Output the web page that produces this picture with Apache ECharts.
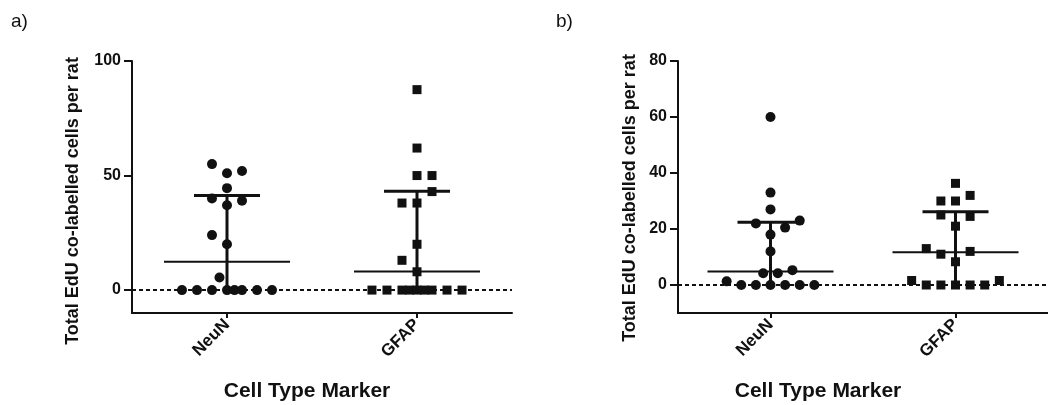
<!DOCTYPE html>
<html>
<head>
<meta charset="utf-8">
<script src="https://cdn.jsdelivr.net/npm/echarts@6/dist/echarts.min.js"></script>
<style>
html,body{margin:0;padding:0;background:#fff;}
#chart{width:1048px;height:405px;}
</style>
</head>
<body>
<div id="chart"></div>
<script>
// ---------- DATA ----------
const categories = ['NeuN', 'GFAP'];
const yTicksA = [0, 50, 100];
const yTicksB = [0, 20, 40, 60, 80];
const yTitle = 'Total EdU co-labelled cells per rat';
const xTitle = 'Cell Type Marker';

// panel a)
const aNeuN      = [55, 51, 52, 44.5, 40, 39, 37, 24, 20, 5.5, 0, 0, 0, 0, 0, 0, 0, 0];
const aNeuNSlot  = [-1, 0, 1, 0, -1, 1, 0, -1, 0, -0.5, -3, -2, -1, 0, 0.5, 1, 2, 3];
const aGFAP      = [87.5, 62, 50, 50, 43, 38, 38, 20, 13, 8, 0, 0, 0, 0, 0, 0, 0, 0, 0];
const aGFAPSlot  = [0, 0, 0, 1, 1, -1, 0, 0, -1, 0, -3, -2, -1, -0.5, 0, 0.5, 1, 2, 3];
const aCenter    = [12.4, 8.1];   // long horizontal line
const aUpper     = [41.3, 43.1];  // capped error bar top

// panel b)
const bNeuN      = [60, 33, 27, 22, 20.5, 23, 18, 12, 4.2, 4.2, 5.3, 1.3, 0, 0, 0, 0, 0, 0];
const bNeuNSlot  = [0, 0, 0, -1, 1, 2, 0, 0, -0.5, 0.5, 1.5, -3, -2, -1, 0, 1, 2, 3];
const bGFAP      = [36.3, 30, 30, 32, 25, 24.5, 21, 13, 11, 12, 8.3, 1.6, 1.6, 0, 0, 0, 0, 0];
const bGFAPSlot  = [0, -1, 0, 1, -1, 1, 0, -2, -1, 1, 0, -3, 3, -2, -1, 0, 1, 2];
const bCenter    = [4.8, 11.7];
const bUpper     = [22.4, 26.2];

// ---------- STYLE ----------
const INK = '#111';
const FONT = '"Liberation Sans", Arial, sans-serif';
const slotStep = 0.079;

function pts(vals, slots, cat) {
  return vals.map((v, i) => [cat + slots[i] * slotStep, v]);
}
function summary(center, upper) {
  return center.map((c, i) => [i, c, upper[i]]);
}

function renderSummary(params, api) {
  const x = api.value(0), c = api.value(1), u = api.value(2);
  const pc = api.coord([x, c]);
  const pu = api.coord([x, u]);
  const p0 = api.coord([x, 0]);
  return {
    type: 'group',
    children: [
      {type: 'line', shape: {x1: pc[0] - 63, y1: pc[1], x2: pc[0] + 63, y2: pc[1]}, style: {stroke: INK, lineWidth: 2}},
      {type: 'line', shape: {x1: pu[0] - 33, y1: pu[1], x2: pu[0] + 33, y2: pu[1]}, style: {stroke: INK, lineWidth: 3}},
      {type: 'line', shape: {x1: p0[0], y1: p0[1], x2: pu[0], y2: pu[1]}, style: {stroke: INK, lineWidth: 3}}
    ]
  };
}

function catAxis(gi) {
  return {
    type: 'category', gridIndex: gi, data: categories, boundaryGap: true, position: 'bottom',
    axisLine: {show: true, onZero: false, lineStyle: {color: INK, width: 2}},
    axisTick: {show: true, alignWithLabel: true, length: 5, lineStyle: {color: INK, width: 2}},
    axisLabel: {rotate: 45, margin: 9, color: INK, fontFamily: FONT, fontWeight: 'bold', fontSize: 17},
    splitLine: {show: false}
  };
}
function valXAxis(gi) {
  return {type: 'value', gridIndex: gi, min: -0.5, max: 1.5, show: false,
          axisLine: {onZero: false}, splitLine: {show: false}};
}
function yAxis(gi, max, ticks) {
  return {
    type: 'value', gridIndex: gi, min: -10, max: max, position: 'left',
    axisLine: {show: true, onZero: false, lineStyle: {color: INK, width: 2}},
    axisTick: {show: true, length: 8, lineStyle: {color: INK, width: 2}, customValues: ticks},
    axisLabel: {color: INK, fontFamily: FONT, fontWeight: 'bold', fontSize: 16, margin: 11, customValues: ticks},
    splitLine: {show: false}
  };
}
const zeroLine = {
  silent: true, symbol: 'none', label: {show: false},
  lineStyle: {color: INK, width: 1.8, type: [4, 3]},
  data: [{yAxis: 0}]
};
function scatter(xi, yi, data, symbol, size, withLine) {
  const s = {
    type: 'scatter', xAxisIndex: xi, yAxisIndex: yi, data: data,
    symbol: symbol, symbolSize: size, itemStyle: {color: INK, opacity: 1}, z: 3
  };
  if (withLine) s.markLine = zeroLine;
  return s;
}

const chart = echarts.init(document.getElementById('chart'), null, {renderer: 'canvas'});
chart.setOption({
  backgroundColor: '#fff',
  animation: false,
  grid: [
    {left: 132, top: 61, width: 380, height: 252},
    {left: 678, top: 61, width: 376, height: 252}
  ],
  xAxis: [catAxis(0), valXAxis(0), catAxis(1), valXAxis(1)],
  yAxis: [yAxis(0, 100, yTicksA), yAxis(1, 80, yTicksB)],
  series: [
    scatter(1, 0, pts(aNeuN, aNeuNSlot, 0), 'circle', 10, true),
    scatter(1, 0, pts(aGFAP, aGFAPSlot, 1), 'rect', 9, false),
    {type: 'custom', xAxisIndex: 1, yAxisIndex: 0, data: summary(aCenter, aUpper), renderItem: renderSummary, z: 4, encode: {x: 0, y: 1}},
    scatter(3, 1, pts(bNeuN, bNeuNSlot, 0), 'circle', 10, true),
    scatter(3, 1, pts(bGFAP, bGFAPSlot, 1), 'rect', 9, false),
    {type: 'custom', xAxisIndex: 3, yAxisIndex: 1, data: summary(bCenter, bUpper), renderItem: renderSummary, z: 4, encode: {x: 0, y: 1}}
  ],
  graphic: [
    {type: 'text', left: 11, top: 12, style: {text: 'a)', fontFamily: FONT, fontSize: 19, fill: INK}},
    {type: 'text', left: 556, top: 12, style: {text: 'b)', fontFamily: FONT, fontSize: 19, fill: INK}},
    {type: 'text', x: 73.5, y: 201, rotation: Math.PI / 2,
     style: {text: yTitle, fontFamily: FONT, fontWeight: 'bold', fontSize: 18, fill: INK, align: 'center', verticalAlign: 'middle'}},
    {type: 'text', x: 630, y: 198, rotation: Math.PI / 2,
     style: {text: yTitle, fontFamily: FONT, fontWeight: 'bold', fontSize: 18, fill: INK, align: 'center', verticalAlign: 'middle'}},
    {type: 'text', x: 307, y: 391,
     style: {text: xTitle, fontFamily: FONT, fontWeight: 'bold', fontSize: 21, fill: INK, align: 'center', verticalAlign: 'middle'}},
    {type: 'text', x: 818, y: 391,
     style: {text: xTitle, fontFamily: FONT, fontWeight: 'bold', fontSize: 21, fill: INK, align: 'center', verticalAlign: 'middle'}}
  ]
});
</script>
</body>
</html>
